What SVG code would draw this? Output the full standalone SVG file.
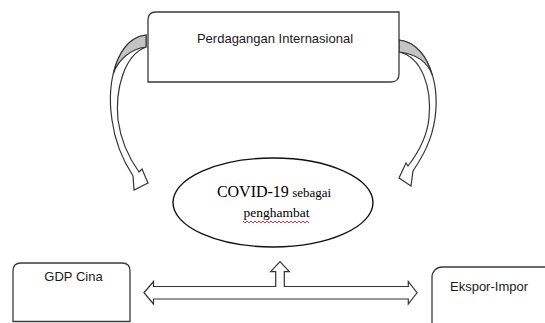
<svg xmlns="http://www.w3.org/2000/svg" width="545" height="323" viewBox="0 0 545 323">
<style>
.box{fill:#fff;stroke:#3a3a3a;stroke-width:1.3}
.arrow{fill:#fff;stroke:#333;stroke-width:1.2;stroke-linejoin:miter}
.shade{fill:#c4c4c4;stroke:#333;stroke-width:1.1}
.lbl{font-family:"Liberation Sans",Arial,sans-serif;font-size:13px;fill:#1a1a1a}
.ser{font-family:"Liberation Serif","Times New Roman",serif;fill:#000}
</style>
<rect width="545" height="323" fill="#fff"/>
<g id="connectors">
  <path class="arrow" d="M146,35 C118,38 106,80 112,120 C115,143 124,162 133,176 L134,190 L148,183 L142,169 L139,172 C129,158 121,142 118,120 C115,90 124,55 146,47 Z"/>
  <path class="shade" d="M146,35 C129.2,36.8 118.16,52.64 113.3,73.7 C118,60 130,49 146,47 Z"/>
  <path class="arrow" d="M399,40 C427,43 440,82 435,118 C432,140 423,156 413,171 L411,186 L399,178 L406,163 L408,166 C418,153 427,138 429,118 C432,88 422,57 399,52 Z"/>
  <path class="shade" d="M399,40 C415.8,41.8 427.2,56.56 432.55,75.86 C428,62 416,54 399,52 Z"/>
  <path class="arrow" d="M144,292.75 L153.5,281.5 L153.5,286.5 L275.7,286.5 L275.7,271.7 L270.7,271.7 L280,261.7 L289.3,271.7 L284.3,271.7 L284.3,286.5 L408.3,286.5 L408.3,281.5 L417,292.75 L408.3,304 L408.3,299 L153.5,299 L153.5,304 Z"/>
</g>
<g id="node-perdagangan">
  <path class="box" d="M156,12 H399 V74 Q399,82 391,82 H148 V20 Q148,12 156,12 Z"/>
  <text class="lbl" x="275" y="43" text-anchor="middle">Perdagangan Internasional</text>
</g>
<g id="node-covid">
  <ellipse cx="273" cy="202.5" rx="100" ry="44.5" fill="#fff" stroke="#111" stroke-width="1.4"/>
  <text class="ser" x="274" y="197" text-anchor="middle"><tspan font-size="16">COVID-19</tspan><tspan font-size="13"> sebagai</tspan></text>
  <text class="ser" x="276.5" y="216.5" text-anchor="middle" font-size="13.5">penghambat</text>
  <path d="M243,221 l2,2 l2,-2 l2,2 l2,-2 l2,2 l2,-2 l2,2 l2,-2 l2,2 l2,-2 l2,2 l2,-2 l2,2 l2,-2 l2,2 l2,-2 l2,2 l2,-2 l2,2 l2,-2 l2,2 l2,-2 l2,2 l2,-2 l2,2 l2,-2 l2,2 l2,-2 l2,2 l2,-2 l2,2 l2,-2 l2,2" fill="none" stroke="#e02020" stroke-width="0.9"/>
</g>
<g id="node-gdp">
  <path class="box" d="M13,321.5 V271 Q13,263 21,263 H122 Q130,263 130,271 V321.5 Z"/>
  <text class="lbl" x="73.5" y="281" text-anchor="middle">GDP Cina</text>
</g>
<g id="node-ekspor">
  <rect class="box" x="432" y="267" width="140" height="80" rx="10"/>
  <text class="lbl" x="489" y="291" text-anchor="middle">Ekspor-Impor</text>
</g>
</svg>
